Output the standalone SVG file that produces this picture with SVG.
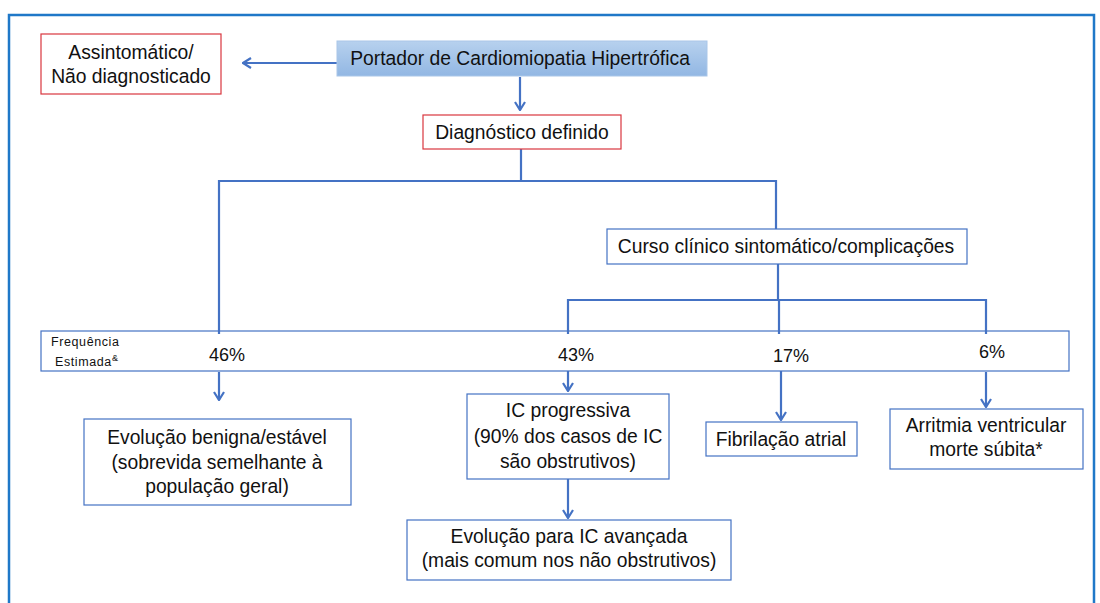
<svg xmlns="http://www.w3.org/2000/svg" width="1100" height="603" viewBox="0 0 1100 603">
<defs>
<linearGradient id="gp" x1="0" y1="0" x2="0" y2="1">
<stop offset="0" stop-color="#B7D1EE"/>
<stop offset="1" stop-color="#92B7E3"/>
</linearGradient>
<marker id="ah" markerUnits="userSpaceOnUse" viewBox="0 0 12 12" refX="11" refY="6" markerWidth="12" markerHeight="12" orient="auto">
<path d="M3,1 L11,6 L3,11" fill="none" stroke="#4472C4" stroke-width="2.2"/>
</marker>
<style>
.t{font-family:"Liberation Sans",Arial,sans-serif;font-size:19.3px;fill:#111;text-anchor:middle}
.p{font-family:"Liberation Sans",Arial,sans-serif;font-size:18px;fill:#111;text-anchor:middle}
.s{font-family:"Liberation Sans",Arial,sans-serif;font-size:12.5px;fill:#111;letter-spacing:0.6px}
.bb{fill:#fff;stroke:#4472C4;stroke-width:1.2}
.rb{fill:#fff;stroke:#D9363E;stroke-width:1.2}
.c{fill:none;stroke:#4472C4;stroke-width:2.2}
</style>
</defs>
<rect width="1100" height="603" fill="#fff"/>
<rect x="9" y="15" width="1085" height="600" fill="none" stroke="#1F78C8" stroke-width="2.5"/>

<g id="freq">
<rect class="bb" x="41" y="331" width="1028" height="40"/>
<text class="s" x="51" y="346">Frequência</text>
<text class="s" x="55" y="366">Estimada<tspan font-size="9" dy="-5">&amp;</tspan></text>
<text class="p" x="227" y="361">46%</text>
<text class="p" x="576" y="361">43%</text>
<text class="p" x="791" y="362">17%</text>
<text class="p" x="992" y="358">6%</text>
</g>

<g id="connectors">
<path class="c" d="M337,63 H243" marker-end="url(#ah)"/>
<path class="c" d="M520,77 V110" marker-end="url(#ah)"/>
<path class="c" d="M521,149 V181"/>
<path class="c" d="M219,334 V181 H776 V229"/>
<path class="c" d="M219,372 V400" marker-end="url(#ah)"/>
<path class="c" d="M778,264 V300"/>
<path class="c" d="M568,334 V300 H986 V334"/>
<path class="c" d="M779,300 V334"/>
<path class="c" d="M568,371 V391" marker-end="url(#ah)"/>
<path class="c" d="M781,371 V420" marker-end="url(#ah)"/>
<path class="c" d="M986,372 V407" marker-end="url(#ah)"/>
<path class="c" d="M568,479 V518" marker-end="url(#ah)"/>
</g>

<g id="assintomatico">
<rect class="rb" x="41" y="34" width="180" height="60"/>
<text class="t" x="131" y="59">Assintomático/</text>
<text class="t" x="131" y="83">Não diagnosticado</text>
</g>

<g id="portador">
<rect x="337" y="41" width="370" height="35" fill="url(#gp)" stroke="#A9C6E8" stroke-width="1"/>
<text class="t" x="520" y="65">Portador de Cardiomiopatia Hipertrófica</text>
</g>

<g id="diagnostico">
<rect class="rb" x="423" y="115" width="198" height="34"/>
<text class="t" x="522" y="139">Diagnóstico definido</text>
</g>

<g id="curso">
<rect class="bb" x="607" y="229" width="360" height="35"/>
<text class="t" x="786" y="253">Curso clínico sintomático/complicações</text>
</g>

<g id="benigna">
<rect class="bb" x="84" y="419" width="267" height="86"/>
<text class="t" x="217" y="444">Evolução benigna/estável</text>
<text class="t" x="217" y="469">(sobrevida semelhante à</text>
<text class="t" x="217" y="493">população geral)</text>
</g>

<g id="ic-progressiva">
<rect class="bb" x="467" y="394" width="202" height="85"/>
<text class="t" x="568" y="417">IC progressiva</text>
<text class="t" x="568" y="443">(90% dos casos de IC</text>
<text class="t" x="568" y="468">são obstrutivos)</text>
</g>

<g id="ic-avancada">
<rect class="bb" x="407" y="520" width="324" height="60"/>
<text class="t" x="569" y="543">Evolução para IC avançada</text>
<text class="t" x="569" y="567">(mais comum nos não obstrutivos)</text>
</g>

<g id="fibrilacao">
<rect class="bb" x="706" y="422" width="151" height="34"/>
<text class="t" x="781" y="446">Fibrilação atrial</text>
</g>

<g id="arritmia">
<rect class="bb" x="890" y="409" width="193" height="60"/>
<text class="t" x="986" y="432">Arritmia ventricular</text>
<text class="t" x="986" y="456">morte súbita*</text>
</g>
</svg>
